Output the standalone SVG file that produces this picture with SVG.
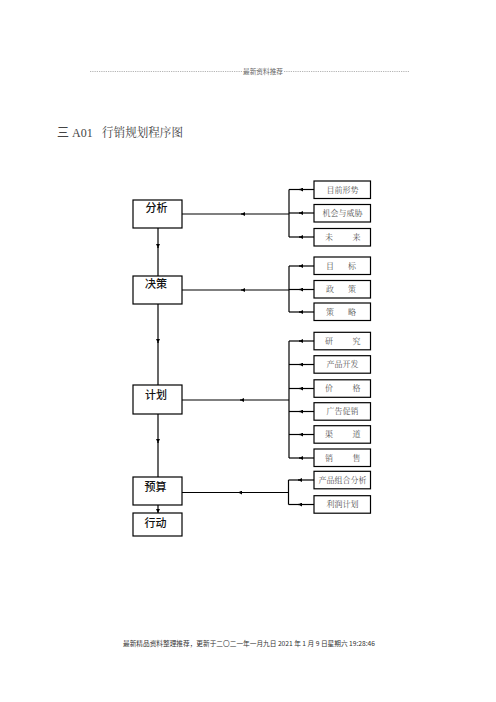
<svg xmlns="http://www.w3.org/2000/svg" width="496" height="702" viewBox="0 0 496 702">
<style>
.box{fill:#fff;stroke:#000;stroke-width:1.2}
.ln{fill:none;stroke:#000;stroke-width:1.2}
.lt{font-family:"Noto Sans CJK SC",sans-serif;font-size:11px;font-weight:500;fill:#111}
.rt{font-family:"Noto Serif CJK SC","Noto Sans CJK SC",serif;font-size:8px;fill:#555;text-anchor:middle}
.hd{font-family:"Noto Sans CJK SC",sans-serif;font-size:6.5px;fill:#666}
.tt{font-family:"Liberation Serif","Noto Sans CJK SC",serif;font-size:12px;fill:#444}
</style>
<defs>
<marker id="ah" viewBox="0 0 6 6" refX="6" refY="3" markerWidth="4" markerHeight="4" orient="auto" markerUnits="userSpaceOnUse">
<path d="M0,0 L6,3 L0,6 z" fill="#000"/>
</marker>
</defs>
<g id="header">
<line x1="90" y1="71.5" x2="242" y2="71.5" stroke="#666" stroke-width="0.6" stroke-dasharray="0.8,1"/>
<line x1="284" y1="71.5" x2="410" y2="71.5" stroke="#666" stroke-width="0.6" stroke-dasharray="0.8,1"/>
<text class="hd" x="243" y="73.5" textLength="40" lengthAdjust="spacingAndGlyphs">最新资料推荐</text>
</g>
<g id="title">
<text class="tt" x="57" y="137">三 A01</text>
<text class="tt" x="102" y="137" textLength="81" lengthAdjust="spacingAndGlyphs" style="font-family:'Noto Serif CJK SC','Noto Sans CJK SC',serif">行销规划程序图</text>
</g>
<g id="connectors">
<path class="ln" d="M158,228 L158,248" marker-end="url(#ah)"/>
<path class="ln" d="M158,247 L158,276"/>
<path class="ln" d="M158,304 L158,343" marker-end="url(#ah)"/>
<path class="ln" d="M158,342 L158,385"/>
<path class="ln" d="M158,414 L158,443" marker-end="url(#ah)"/>
<path class="ln" d="M158,442 L158,477"/>
<path class="ln" d="M158,505 L158,513" marker-end="url(#ah)"/>
<path class="ln" d="M289,189.5 L289,237"/>
<path class="ln" d="M289,214 L241,214" marker-end="url(#ah)"/>
<path class="ln" d="M242,214 L182,214"/>
<path class="ln" d="M314,189.5 L299,189.5" marker-end="url(#ah)"/><path class="ln" d="M300,189.5 L289,189.5"/>
<path class="ln" d="M314,213 L299,213" marker-end="url(#ah)"/><path class="ln" d="M300,213 L289,213"/>
<path class="ln" d="M314,237 L299,237" marker-end="url(#ah)"/><path class="ln" d="M300,237 L289,237"/>
<path class="ln" d="M289,266 L289,312"/>
<path class="ln" d="M289,290 L241,290" marker-end="url(#ah)"/>
<path class="ln" d="M242,290 L182,290"/>
<path class="ln" d="M314,266 L299,266" marker-end="url(#ah)"/><path class="ln" d="M300,266 L289,266"/>
<path class="ln" d="M314,289.5 L299,289.5" marker-end="url(#ah)"/><path class="ln" d="M300,289.5 L289,289.5"/>
<path class="ln" d="M314,312 L299,312" marker-end="url(#ah)"/><path class="ln" d="M300,312 L289,312"/>
<path class="ln" d="M289,341 L289,458"/>
<path class="ln" d="M289,400 L240,400" marker-end="url(#ah)"/>
<path class="ln" d="M241,400 L182,400"/>
<path class="ln" d="M314,341 L299,341" marker-end="url(#ah)"/><path class="ln" d="M300,341 L289,341"/>
<path class="ln" d="M314,364.5 L299,364.5" marker-end="url(#ah)"/><path class="ln" d="M300,364.5 L289,364.5"/>
<path class="ln" d="M314,388.5 L299,388.5" marker-end="url(#ah)"/><path class="ln" d="M300,388.5 L289,388.5"/>
<path class="ln" d="M314,411.5 L299,411.5" marker-end="url(#ah)"/><path class="ln" d="M300,411.5 L289,411.5"/>
<path class="ln" d="M314,434.5 L299,434.5" marker-end="url(#ah)"/><path class="ln" d="M300,434.5 L289,434.5"/>
<path class="ln" d="M314,458 L299,458" marker-end="url(#ah)"/><path class="ln" d="M300,458 L289,458"/>
<path class="ln" d="M288.5,480 L288.5,504.5"/>
<path class="ln" d="M288.5,492.5 L238,492.5" marker-end="url(#ah)"/>
<path class="ln" d="M239,492.5 L182,492.5"/>
<path class="ln" d="M314,480 L298,480" marker-end="url(#ah)"/><path class="ln" d="M299,480 L288.5,480"/>
<path class="ln" d="M314,504.5 L298,504.5" marker-end="url(#ah)"/><path class="ln" d="M299,504.5 L288.5,504.5"/>
</g>
<g id="n-fenxi"><rect class="box" x="133" y="200" width="49" height="28"/><text class="lt" x="145.5" y="212">分析</text></g>
<g id="n-juece"><rect class="box" x="133" y="276" width="49" height="28"/><text class="lt" x="145" y="288">决策</text></g>
<g id="n-jihua"><rect class="box" x="133" y="385" width="49" height="29"/><text class="lt" x="145" y="399">计划</text></g>
<g id="n-yusuan"><rect class="box" x="133" y="477" width="49" height="28"/><text class="lt" x="144.5" y="490.5">预算</text></g>
<g id="n-xingdong"><rect class="box" x="133" y="513" width="49" height="23"/><text class="lt" x="144.5" y="526.5">行动</text></g>
<g id="r1"><rect class="box" x="314" y="181" width="56.5" height="17.5"/><text class="rt" x="342.5" y="192.5">目前形势</text></g>
<g id="r2"><rect class="box" x="314" y="204.5" width="56.5" height="17.5"/><text class="rt" x="342.5" y="216">机会与威胁</text></g>
<g id="r3"><rect class="box" x="314" y="228.5" width="56.5" height="17.5"/><text class="rt" x="329" y="240">未</text><text class="rt" x="356.5" y="240">来</text></g>
<g id="r4"><rect class="box" x="314" y="257" width="56.5" height="17.5"/><text class="rt" x="330" y="268.5">目</text><text class="rt" x="352" y="268.5">标</text></g>
<g id="r5"><rect class="box" x="314" y="280.5" width="56.5" height="17.5"/><text class="rt" x="330" y="292">政</text><text class="rt" x="352" y="292">策</text></g>
<g id="r6"><rect class="box" x="314" y="303" width="56.5" height="17.5"/><text class="rt" x="330" y="314.5">策</text><text class="rt" x="352" y="314.5">略</text></g>
<g id="r7"><rect class="box" x="314" y="332.3" width="56.5" height="17.5"/><text class="rt" x="329" y="343.8">研</text><text class="rt" x="356.5" y="343.8">究</text></g>
<g id="r8"><rect class="box" x="314" y="355.7" width="56.5" height="17.5"/><text class="rt" x="342.5" y="367.2">产品开发</text></g>
<g id="r9"><rect class="box" x="314" y="379.8" width="56.5" height="17.5"/><text class="rt" x="329" y="391.3">价</text><text class="rt" x="356.5" y="391.3">格</text></g>
<g id="r10"><rect class="box" x="314" y="402.7" width="56.5" height="17.5"/><text class="rt" x="342.5" y="414.2">广告促销</text></g>
<g id="r11"><rect class="box" x="314" y="425.7" width="56.5" height="17.5"/><text class="rt" x="329" y="437.2">渠</text><text class="rt" x="356.5" y="437.2">道</text></g>
<g id="r12"><rect class="box" x="314" y="449" width="56.5" height="17.5"/><text class="rt" x="329" y="460.5">销</text><text class="rt" x="356.5" y="460.5">售</text></g>
<g id="r13"><rect class="box" x="314" y="471.3" width="56.5" height="17.5"/><text class="rt" x="342.5" y="482.8">产品组合分析</text></g>
<g id="r14"><rect class="box" x="314" y="495.7" width="56.5" height="17.5"/><text class="rt" x="342.5" y="507.2">利润计划</text></g>
<g id="footer">
<text class="hd" x="123" y="645.5" textLength="252" lengthAdjust="spacingAndGlyphs" style="fill:#333">最新精品资料整理推荐，更新于二〇二一年一月九日 2021 年 1 月 9 日星期六 19:28:46</text>
</g>
</svg>
